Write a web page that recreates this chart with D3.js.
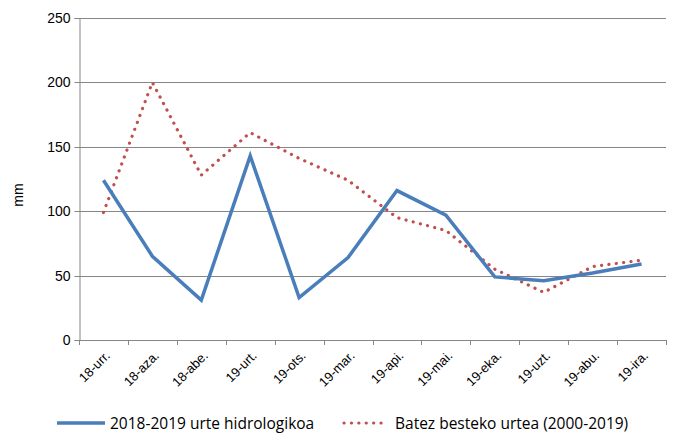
<!DOCTYPE html>
<html>
<head>
<meta charset="utf-8">
<script src="https://cdn.jsdelivr.net/npm/d3@7"></script>
<style>
  body { margin: 0; background: #fff; }
  svg { display: block; }
</style>
</head>
<body>
<div id="chart"></div>
<script>
// months of the hydrological year
var months = ['18-urr.', '18-aza.', '18-abe.', '19-urt.', '19-ots.', '19-mar.',
              '19-api.', '19-mai.', '19-eka.', '19-uzt.', '19-abu.', '19-ira.'];
var hydroYear = [124, 65, 31, 143, 33, 64, 116, 97, 49, 46, 52, 59];
var averageYear = [99, 200, 128, 161, 141, 124, 95, 85, 55, 37, 57, 62];
var yTicks = [0, 50, 100, 150, 200, 250];
var seriesNames = ['2018-2019 urte hidrologikoa', 'Batez besteko urtea (2000-2019)'];

var WIDTH = 675, HEIGHT = 433;
var margin = { left: 79, right: 5, top: 18, bottom: 93 };
var BLUE = '#4a7ebb', RED = '#c0504d', GRID = '#868686';
var AXIS_FONT = "'Liberation Sans', Arial, sans-serif";

var svg = d3.select('#chart').append('svg')
    .attr('width', WIDTH)
    .attr('height', HEIGHT);

var x = d3.scaleBand()
    .domain(months)
    .range([margin.left, WIDTH - margin.right - 4]);

var y = d3.scaleLinear()
    .domain([0, 250])
    .range([HEIGHT - margin.bottom, margin.top]);

// gridlines
svg.append('g')
    .selectAll('line')
    .data(yTicks.slice(1))
    .enter()
    .append('line')
    .attr('x1', margin.left)
    .attr('x2', x.range()[1])
    .attr('y1', d => Math.round(y(d)) + 0.5)
    .attr('y2', d => Math.round(y(d)) + 0.5)
    .style('stroke', GRID)
    .style('stroke-width', 1);

// y axis
var yAxis = svg.append('g')
    .attr('transform', `translate(${margin.left + 0.5},0)`)
    .call(d3.axisLeft(y).tickValues(yTicks).tickSize(5).tickPadding(4)
        .tickFormat(d3.format('d')));
yAxis.selectAll('path, line').style('stroke', GRID);
yAxis.selectAll('text')
    .style('font-family', AXIS_FONT)
    .style('font-size', '14px')
    .style('fill', '#000');
yAxis.selectAll('.tick').attr('transform', d => `translate(0,${Math.round(y(d)) + 0.5})`);

// x axis
var xAxis = svg.append('g')
    .attr('transform', `translate(0,${Math.round(y(0)) + 0.5})`)
    .call(d3.axisBottom(x).tickSize(0).tickFormat(''));
xAxis.select('path').style('stroke', GRID).attr('d', `M${margin.left},0H${x.range()[1]}`);
xAxis.selectAll('.tick').remove();

// tick marks at band boundaries
svg.append('g')
    .selectAll('line')
    .data(months.concat(['end']))
    .enter()
    .append('line')
    .attr('x1', (d, i) => Math.round(margin.left + i * x.bandwidth()) + 0.5)
    .attr('x2', (d, i) => Math.round(margin.left + i * x.bandwidth()) + 0.5)
    .attr('y1', Math.round(y(0)))
    .attr('y2', Math.round(y(0)) + 5)
    .style('stroke', GRID);

// rotated month labels
svg.append('g')
    .selectAll('text')
    .data(months)
    .enter()
    .append('text')
    .attr('transform', d => `translate(${x(d) + x.bandwidth() / 2 + 5},${y(0) + 14})rotate(-45)`)
    .style('text-anchor', 'end')
    .style('dominant-baseline', 'middle')
    .style('font-family', AXIS_FONT)
    .style('font-size', '13px')
    .text(d => d);

// y axis title
svg.append('text')
    .attr('transform', `translate(23,${(y(0) + y(250)) / 2 + 16})rotate(-90)`)
    .style('text-anchor', 'middle')
    .style('font-family', AXIS_FONT)
    .style('font-size', '14px')
    .text('mm');

var line = d3.line()
    .x((d, i) => x(months[i]) + x.bandwidth() / 2)
    .y(d => y(d));

svg.append('path')
    .datum(averageYear)
    .attr('d', line)
    .style('fill', 'none')
    .style('stroke', RED)
    .style('stroke-width', 3.2)
    .style('stroke-linecap', 'round')
    .style('stroke-dasharray', '0.1 7.3');

svg.append('path')
    .datum(hydroYear)
    .attr('d', line)
    .style('fill', 'none')
    .style('stroke', BLUE)
    .style('stroke-width', 3.5)
    .style('stroke-linejoin', 'miter');

// legend
var legend = svg.append('g').attr('transform', 'translate(0,423)');
legend.append('line')
    .attr('x1', 57).attr('x2', 105)
    .style('stroke', BLUE)
    .style('stroke-width', 3.5);
legend.append('line')
    .attr('x1', 344).attr('x2', 386)
    .style('stroke', RED)
    .style('stroke-width', 3.2)
    .style('stroke-linecap', 'round')
    .style('stroke-dasharray', '0.1 7.3');
legend.selectAll('text')
    .data(seriesNames)
    .enter()
    .append('text')
    .attr('x', (d, i) => i === 0 ? 110 : 395)
    .attr('y', 5.5)
    .style('font-family', "'Open Sans', Lato, sans-serif")
    .style('font-size', '15.5px')
    .style('fill', '#000')
    .text(d => d);
</script>
</body>
</html>
